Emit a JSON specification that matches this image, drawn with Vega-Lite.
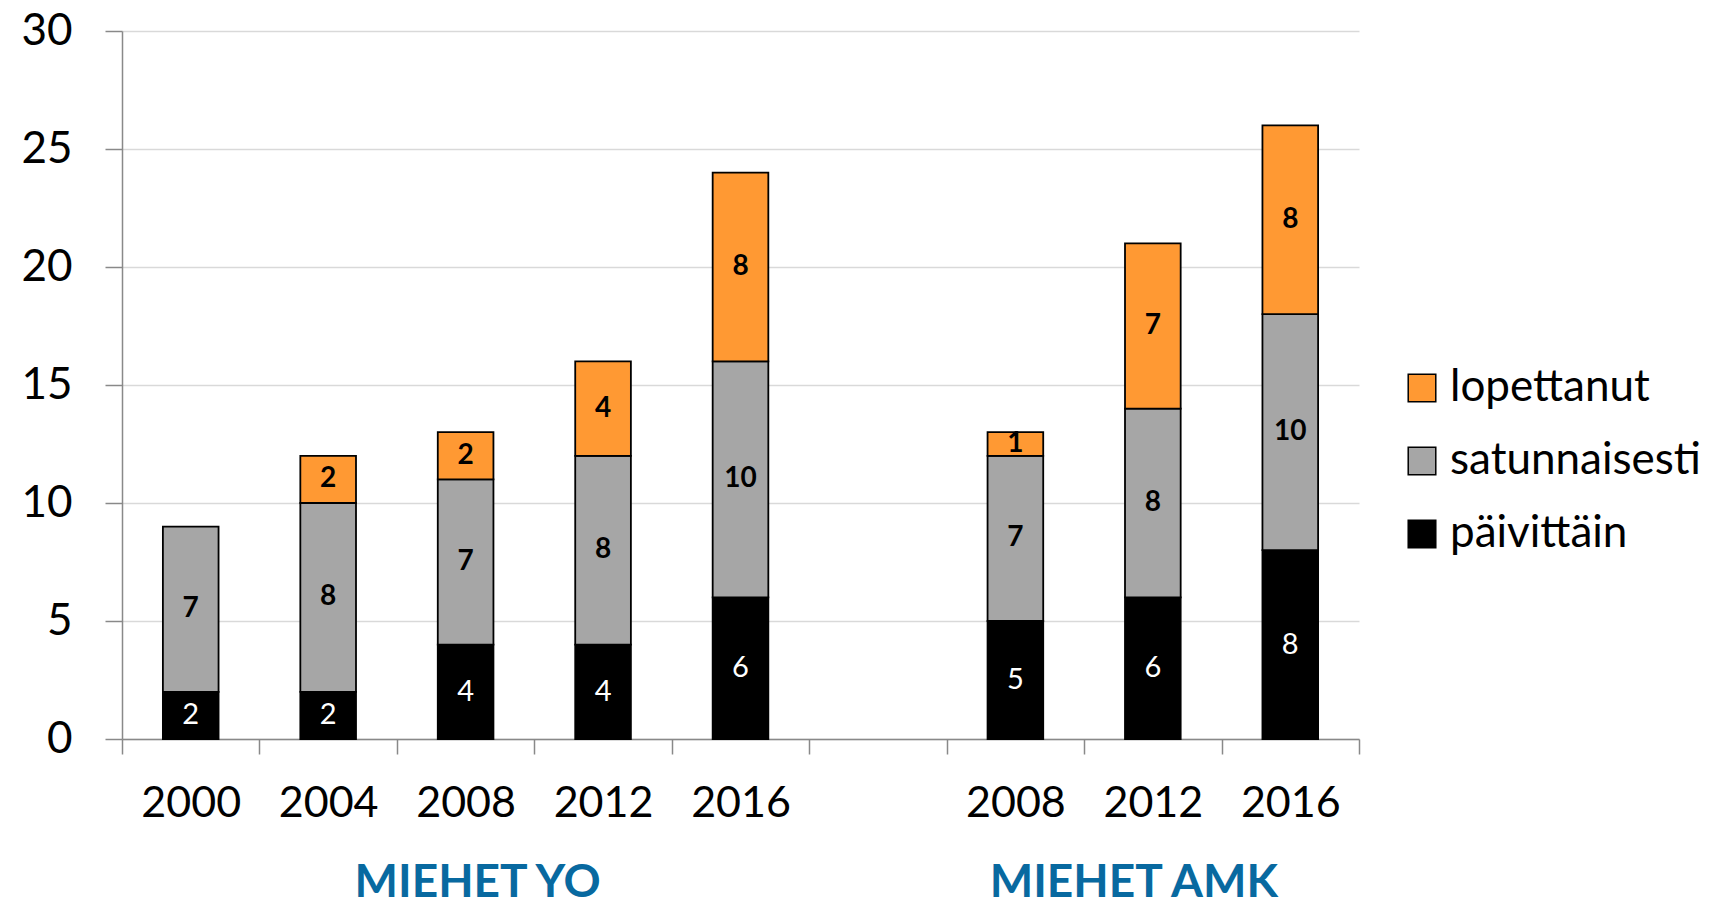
{
  "$schema": "https://vega.github.io/schema/vega-lite/v6.json",
  "width": 1237,
  "height": 708,
  "autosize": "none",
  "padding": {"left": 122, "top": 31, "right": 360, "bottom": 170},
  "background": "white",
  "config": {"view": {"stroke": null}, "font": "Lato"},
  "data": {"values": [
    {"cat": "YO 2000", "seg": "päivittäin", "v": 2},
    {"cat": "YO 2000", "seg": "satunnaisesti", "v": 7},
    {"cat": "YO 2004", "seg": "päivittäin", "v": 2},
    {"cat": "YO 2004", "seg": "satunnaisesti", "v": 8},
    {"cat": "YO 2004", "seg": "lopettanut", "v": 2},
    {"cat": "YO 2008", "seg": "päivittäin", "v": 4},
    {"cat": "YO 2008", "seg": "satunnaisesti", "v": 7},
    {"cat": "YO 2008", "seg": "lopettanut", "v": 2},
    {"cat": "YO 2012", "seg": "päivittäin", "v": 4},
    {"cat": "YO 2012", "seg": "satunnaisesti", "v": 8},
    {"cat": "YO 2012", "seg": "lopettanut", "v": 4},
    {"cat": "YO 2016", "seg": "päivittäin", "v": 6},
    {"cat": "YO 2016", "seg": "satunnaisesti", "v": 10},
    {"cat": "YO 2016", "seg": "lopettanut", "v": 8},
    {"cat": "AMK 2008", "seg": "päivittäin", "v": 5},
    {"cat": "AMK 2008", "seg": "satunnaisesti", "v": 7},
    {"cat": "AMK 2008", "seg": "lopettanut", "v": 1},
    {"cat": "AMK 2012", "seg": "päivittäin", "v": 6},
    {"cat": "AMK 2012", "seg": "satunnaisesti", "v": 8},
    {"cat": "AMK 2012", "seg": "lopettanut", "v": 7},
    {"cat": "AMK 2016", "seg": "päivittäin", "v": 8},
    {"cat": "AMK 2016", "seg": "satunnaisesti", "v": 10},
    {"cat": "AMK 2016", "seg": "lopettanut", "v": 8}
  ]},
  "transform": [
    {"calculate": "indexof(['päivittäin','satunnaisesti','lopettanut'], datum.seg)", "as": "o"},
    {"stack": "v", "groupby": ["cat"], "sort": [{"field": "o", "order": "ascending"}], "as": ["y0", "y1"]},
    {"calculate": "(datum.y0 + datum.y1) / 2", "as": "ym"}
  ],
  "resolve": {"axis": {"x": "independent"}},
  "layer": [
    {
      "mark": {"type": "bar", "width": {"band": 0.405}, "stroke": "#000000", "strokeWidth": 1.8},
      "encoding": {
        "x": {
          "field": "cat", "type": "nominal",
          "scale": {"domain": ["YO 2000", "YO 2004", "YO 2008", "YO 2012", "YO 2016", "gap", "AMK 2008", "AMK 2012", "AMK 2016"], "paddingInner": 0, "paddingOuter": 0},
          "axis": {
            "title": null, "labelAngle": 0,
            "labelExpr": "datum.value == 'gap' ? '' : split(datum.value, ' ')[1]",
            "tickBand": "extent", "ticks": true, "tickSize": 15, "tickColor": "#898989", "tickWidth": 1.5,
            "domainColor": "#898989", "domainWidth": 1.5,
            "labelFont": "Lato", "labelFontSize": 43, "labelColor": "#000000", "labelPadding": 28,
            "labelBaseline": "top", "labelLimit": 0
          }
        },
        "y": {
          "field": "y1", "type": "quantitative",
          "scale": {"domain": [0, 30], "nice": false},
          "axis": {
            "title": null, "values": [0, 5, 10, 15, 20, 25, 30],
            "grid": true, "gridColor": "#D9D9D9", "gridWidth": 1.5,
            "domainColor": "#898989", "domainWidth": 1.5,
            "tickSize": 17, "tickColor": "#898989", "tickWidth": 1.5,
            "labelFont": "Lato", "labelFontSize": 44, "labelColor": "#000000", "labelPadding": 33
          }
        },
        "y2": {"field": "y0"},
        "color": {
          "field": "seg", "type": "nominal",
          "scale": {"domain": ["lopettanut", "satunnaisesti", "päivittäin"], "range": ["#FF9933", "#A6A6A6", "#000000"]},
          "legend": {
            "title": null, "orient": "none", "legendX": 1278, "legendY": 335,
            "symbolType": "square", "symbolSize": 760, "symbolStrokeColor": "#000000", "symbolStrokeWidth": 1.5,
            "labelFont": "Lato", "labelFontSize": 44, "labelColor": "#000000", "labelOffset": 6,
            "rowPadding": 29, "symbolOpacity": 1, "labelLimit": 0
          }
        }
      }
    },
    {
      "transform": [{"filter": "datum.seg != 'päivittäin'"}],
      "mark": {"type": "text", "font": "Lato", "fontSize": 28, "fontWeight": "bold", "color": "#000000", "baseline": "middle"},
      "encoding": {
        "x": {"field": "cat", "type": "nominal", "axis": null},
        "y": {"field": "ym", "type": "quantitative"},
        "text": {"field": "v", "type": "quantitative"}
      }
    },
    {
      "transform": [{"filter": "datum.seg == 'päivittäin'"}],
      "mark": {"type": "text", "font": "Lato", "fontSize": 29, "color": "#FFFFFF", "baseline": "middle"},
      "encoding": {
        "x": {
          "field": "cat", "type": "nominal",
          "axis": {
            "title": null, "orient": "bottom", "labelAngle": 0,
            "labelExpr": "datum.value == 'YO 2008' ? 'MIEHET YO' : datum.value == 'AMK 2012' ? 'MIEHET AMK' : ''",
            "ticks": false, "domain": false, "grid": false,
            "labelFont": "Lato", "labelFontSize": 46, "labelFontWeight": "bold", "labelColor": "#0869A0",
            "labelPadding": 121, "labelBaseline": "top", "labelLimit": 0,
            "labelOffset": {"condition": {"test": "datum.value == 'YO 2008'", "value": 12}, "value": -19}
          }
        },
        "y": {"field": "ym", "type": "quantitative"},
        "text": {"field": "v", "type": "quantitative"}
      }
    }
  ]
}
